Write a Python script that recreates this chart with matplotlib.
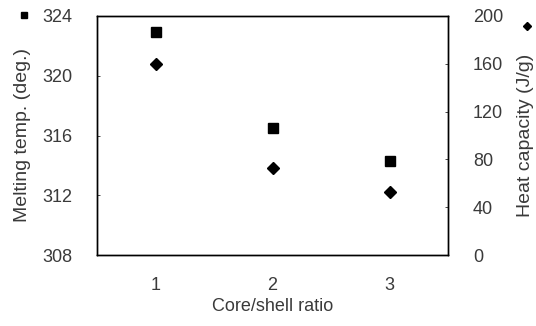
import matplotlib.pyplot as plt
from matplotlib.lines import Line2D

plt.rcParams['font.family'] = ['Liberation Sans', 'DejaVu Sans']

ratio = [1, 2, 3]
melting_temp = [322.9, 316.5, 314.3]
heat_capacity = [160, 73, 53]

fig = plt.figure(figsize=(5.36, 3.26), dpi=100)
ax = fig.add_axes([97/536, 1 - 255/326, 351/536, 239/326])
ax2 = ax.twinx()

ax.plot(ratio, melting_temp, 's', color='black', markersize=7, zorder=3)
ax2.plot(ratio, heat_capacity, 'D', color='black', markersize=6, zorder=3)

txt = '#3a3a3a'
ax.set_xlim(0.5, 3.5)
ax.set_ylim(308, 324)
ax.set_yticks([308, 312, 316, 320, 324])
ax.set_xticks(ratio)
ax2.set_ylim(0, 200)
ax2.set_yticks([0, 40, 80, 120, 160, 200])

for a in (ax, ax2):
    a.tick_params(direction='in', length=2, width=0.5, labelsize=13,
                  labelcolor=txt, pad=18)
    for s in a.spines.values():
        s.set_linewidth(1.0)
ax.tick_params(axis='x', length=0, pad=16)

ax.set_xlabel('Core/shell ratio', fontsize=13, color=txt, labelpad=3)
ax.set_ylabel('Melting temp. (deg.)', fontsize=14, color=txt, labelpad=8)
ax2.set_ylabel('Heat capacity (J/g)', fontsize=14, color=txt, labelpad=10)

# marker keys beside the axis labels
fig.add_artist(Line2D([23.5/536], [1 - 15/326], marker='s', color='black',
                      markersize=5, transform=fig.transFigure))
fig.add_artist(Line2D([527/536], [1 - 26/326], marker='D', color='black',
                      markersize=4.5, transform=fig.transFigure))

fig.savefig('out.png', dpi=100)
